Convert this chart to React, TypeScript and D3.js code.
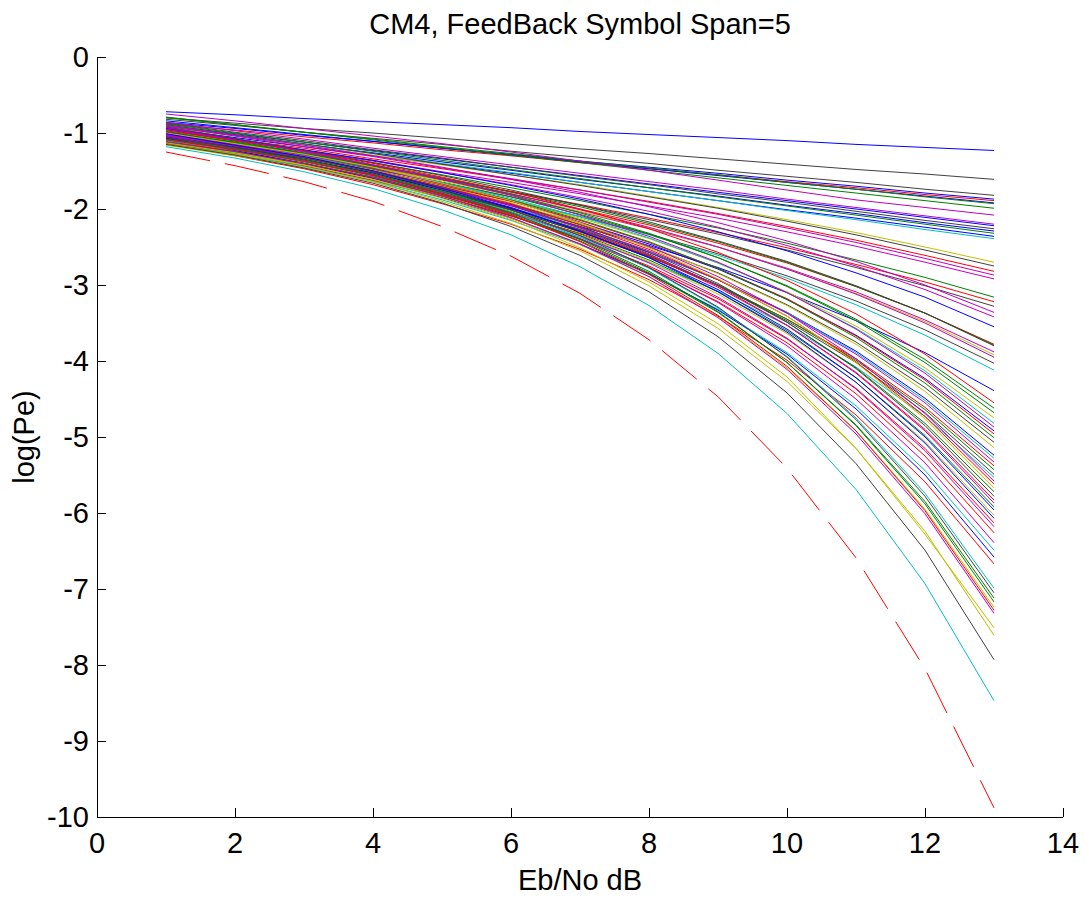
import * as React from "react"
import * as d3 from "d3"

// Eb/No grid (dB) shared by every curve
const ebno = [1, 2, 3, 4, 5, 6, 7, 8, 9, 10, 11, 12, 13]
const xTicks = [0, 2, 4, 6, 8, 10, 12, 14]
const yTicks = [0, -1, -2, -3, -4, -5, -6, -7, -8, -9, -10]

// ideal BPSK reference (red dashed)
const theory = [-1.25, -1.43, -1.64, -1.9, -2.23, -2.62, -3.11, -3.72, -4.47, -5.41, -6.59, -8.05, -9.88]

// MATLAB colour-order letters, one per curve
const curveColors = [
  "b", "k", "k", "b", "r", "b", "g", "g", "m", "m",
  "b", "k", "b", "g", "b", "c", "y", "k", "r", "m",
  "m", "g", "r", "k", "m", "m", "b", "r", "g", "k",
  "m", "y", "m", "k", "c", "b", "r", "g", "g", "y",
  "c", "m", "b", "r", "g", "k", "y", "b", "c", "m",
  "r", "g", "k", "c", "m", "r", "y", "g", "k", "r",
  "m", "g", "b", "y", "b", "r", "m", "r", "m", "c",
  "b", "r", "c", "k", "g", "g", "y", "r", "m", "y",
  "y", "k", "c",
]

// log(Pe) per curve at Eb/No = 1..13 dB
const curves = [
  [-0.72, -0.76, -0.81, -0.85, -0.89, -0.93, -0.98, -1.02, -1.06, -1.1, -1.15, -1.19, -1.23],
  [-0.8, -0.87, -0.94, -1.0, -1.07, -1.14, -1.21, -1.27, -1.34, -1.41, -1.48, -1.54, -1.61],
  [-0.82, -0.9, -0.99, -1.07, -1.15, -1.24, -1.32, -1.4, -1.49, -1.57, -1.65, -1.74, -1.82],
  [-0.86, -0.94, -1.03, -1.11, -1.2, -1.28, -1.37, -1.45, -1.53, -1.62, -1.7, -1.79, -1.87],
  [-0.88, -0.96, -1.05, -1.13, -1.22, -1.3, -1.39, -1.47, -1.55, -1.64, -1.72, -1.81, -1.89],
  [-0.84, -0.93, -1.02, -1.11, -1.2, -1.29, -1.38, -1.47, -1.56, -1.65, -1.74, -1.83, -1.92],
  [-0.8, -0.89, -0.99, -1.08, -1.18, -1.27, -1.37, -1.46, -1.55, -1.65, -1.74, -1.84, -1.93],
  [-0.79, -0.89, -0.99, -1.09, -1.19, -1.29, -1.39, -1.49, -1.59, -1.69, -1.79, -1.89, -1.99],
  [-0.75, -0.84, -0.94, -1.04, -1.14, -1.25, -1.37, -1.49, -1.62, -1.75, -1.88, -1.98, -2.08],
  [-0.86, -0.97, -1.08, -1.2, -1.31, -1.42, -1.53, -1.64, -1.75, -1.87, -1.98, -2.09, -2.2],
  [-0.9, -1.01, -1.12, -1.23, -1.34, -1.45, -1.56, -1.67, -1.78, -1.89, -2.0, -2.11, -2.22],
  [-0.87, -0.99, -1.1, -1.22, -1.33, -1.45, -1.57, -1.68, -1.8, -1.91, -2.03, -2.15, -2.26],
  [-0.92, -1.03, -1.15, -1.26, -1.38, -1.49, -1.61, -1.72, -1.83, -1.95, -2.06, -2.18, -2.29],
  [-0.88, -1.0, -1.12, -1.24, -1.36, -1.48, -1.6, -1.72, -1.84, -1.96, -2.08, -2.2, -2.32],
  [-0.94, -1.06, -1.18, -1.3, -1.41, -1.53, -1.65, -1.77, -1.89, -2.01, -2.12, -2.24, -2.36],
  [-0.9, -1.02, -1.15, -1.27, -1.4, -1.52, -1.65, -1.77, -1.89, -2.02, -2.14, -2.27, -2.39],
  [-0.92, -1.04, -1.16, -1.29, -1.42, -1.55, -1.68, -1.83, -1.98, -2.14, -2.31, -2.5, -2.7],
  [-0.89, -1.02, -1.14, -1.27, -1.41, -1.55, -1.69, -1.84, -1.99, -2.16, -2.34, -2.54, -2.75],
  [-0.95, -1.08, -1.2, -1.34, -1.47, -1.61, -1.75, -1.9, -2.06, -2.23, -2.41, -2.61, -2.82],
  [-0.91, -1.04, -1.18, -1.31, -1.46, -1.6, -1.75, -1.91, -2.07, -2.25, -2.44, -2.65, -2.87],
  [-0.96, -1.09, -1.23, -1.36, -1.51, -1.65, -1.8, -1.96, -2.12, -2.3, -2.49, -2.7, -2.92],
  [-0.93, -1.08, -1.23, -1.39, -1.55, -1.72, -1.89, -2.07, -2.25, -2.45, -2.67, -2.9, -3.16],
  [-0.98, -1.13, -1.29, -1.44, -1.6, -1.77, -1.94, -2.12, -2.31, -2.51, -2.73, -2.96, -3.22],
  [-0.95, -1.11, -1.27, -1.43, -1.6, -1.77, -1.95, -2.14, -2.33, -2.54, -2.77, -3.01, -3.28],
  [-0.9, -1.03, -1.16, -1.3, -1.45, -1.61, -1.78, -1.97, -2.18, -2.42, -2.69, -3.0, -3.36],
  [-0.97, -1.1, -1.23, -1.37, -1.52, -1.68, -1.85, -2.03, -2.24, -2.48, -2.75, -3.06, -3.42],
  [-0.94, -1.08, -1.22, -1.36, -1.52, -1.69, -1.87, -2.07, -2.3, -2.55, -2.84, -3.16, -3.55],
  [-1.0, -1.15, -1.3, -1.45, -1.62, -1.8, -2.0, -2.21, -2.45, -2.71, -3.02, -3.37, -3.78],
  [-0.96, -1.11, -1.26, -1.42, -1.59, -1.78, -1.97, -2.19, -2.43, -2.7, -3.02, -3.37, -3.79],
  [-0.92, -1.07, -1.23, -1.39, -1.56, -1.75, -1.95, -2.17, -2.42, -2.69, -3.01, -3.37, -3.8],
  [-1.01, -1.16, -1.31, -1.48, -1.65, -1.84, -2.04, -2.26, -2.5, -2.78, -3.09, -3.46, -3.88],
  [-0.97, -1.12, -1.28, -1.45, -1.63, -1.82, -2.03, -2.25, -2.5, -2.79, -3.11, -3.48, -3.92],
  [-0.93, -1.09, -1.25, -1.42, -1.6, -1.8, -2.01, -2.24, -2.5, -2.79, -3.12, -3.5, -3.95],
  [-1.03, -1.19, -1.35, -1.52, -1.7, -1.89, -2.1, -2.33, -2.59, -2.88, -3.21, -3.59, -4.03],
  [-0.98, -1.14, -1.31, -1.49, -1.68, -1.88, -2.1, -2.34, -2.61, -2.91, -3.26, -3.66, -4.12],
  [-1.02, -1.2, -1.38, -1.57, -1.77, -1.99, -2.23, -2.48, -2.77, -3.1, -3.47, -3.89, -4.39],
  [-0.97, -1.1, -1.24, -1.4, -1.58, -1.77, -2.0, -2.26, -2.57, -2.94, -3.38, -3.91, -4.55],
  [-1.04, -1.17, -1.31, -1.47, -1.65, -1.84, -2.07, -2.33, -2.64, -3.01, -3.45, -3.98, -4.62],
  [-0.99, -1.12, -1.27, -1.43, -1.61, -1.81, -2.05, -2.32, -2.64, -3.02, -3.47, -4.02, -4.68],
  [-1.06, -1.19, -1.34, -1.5, -1.68, -1.88, -2.12, -2.39, -2.71, -3.09, -3.54, -4.09, -4.75],
  [-1.01, -1.15, -1.3, -1.46, -1.65, -1.86, -2.1, -2.38, -2.71, -3.1, -3.57, -4.13, -4.82],
  [-0.95, -1.09, -1.24, -1.42, -1.61, -1.82, -2.08, -2.36, -2.7, -3.1, -3.58, -4.16, -4.87],
  [-1.08, -1.22, -1.37, -1.54, -1.73, -1.94, -2.18, -2.46, -2.79, -3.19, -3.66, -4.23, -4.92],
  [-1.02, -1.16, -1.32, -1.49, -1.69, -1.9, -2.15, -2.44, -2.78, -3.18, -3.67, -4.25, -4.96],
  [-0.98, -1.13, -1.28, -1.46, -1.66, -1.88, -2.14, -2.43, -2.78, -3.19, -3.69, -4.29, -5.01],
  [-1.05, -1.19, -1.35, -1.53, -1.73, -1.95, -2.2, -2.5, -2.84, -3.26, -3.75, -4.35, -5.07],
  [-1.0, -1.15, -1.31, -1.49, -1.7, -1.92, -2.19, -2.49, -2.85, -3.27, -3.78, -4.4, -5.14],
  [-1.07, -1.22, -1.38, -1.57, -1.78, -2.0, -2.27, -2.57, -2.93, -3.36, -3.87, -4.49, -5.24],
  [-1.03, -1.18, -1.35, -1.54, -1.75, -1.98, -2.25, -2.56, -2.93, -3.36, -3.89, -4.52, -5.28],
  [-0.99, -1.15, -1.32, -1.51, -1.72, -1.96, -2.24, -2.55, -2.93, -3.37, -3.91, -4.55, -5.33],
  [-1.09, -1.24, -1.41, -1.6, -1.82, -2.05, -2.32, -2.63, -3.0, -3.45, -3.97, -4.61, -5.38],
  [-1.04, -1.2, -1.37, -1.56, -1.78, -2.02, -2.3, -2.62, -3.0, -3.45, -3.99, -4.64, -5.43],
  [-1.01, -1.17, -1.35, -1.54, -1.77, -2.01, -2.3, -2.62, -3.01, -3.47, -4.02, -4.68, -5.49],
  [-1.1, -1.26, -1.43, -1.63, -1.85, -2.09, -2.37, -2.7, -3.08, -3.53, -4.08, -4.73, -5.53],
  [-1.02, -1.15, -1.29, -1.46, -1.67, -1.89, -2.17, -2.49, -2.89, -3.37, -3.97, -4.69, -5.58],
  [-1.06, -1.19, -1.33, -1.5, -1.71, -1.93, -2.21, -2.53, -2.93, -3.41, -4.01, -4.73, -5.62],
  [-1.0, -1.14, -1.28, -1.45, -1.66, -1.89, -2.18, -2.51, -2.92, -3.41, -4.02, -4.76, -5.67],
  [-1.11, -1.24, -1.39, -1.56, -1.77, -1.99, -2.27, -2.6, -3.0, -3.49, -4.09, -4.82, -5.72],
  [-1.04, -1.18, -1.32, -1.5, -1.71, -1.95, -2.23, -2.57, -2.98, -3.49, -4.1, -4.85, -5.78],
  [-1.08, -1.22, -1.36, -1.54, -1.75, -1.99, -2.28, -2.61, -3.03, -3.53, -4.15, -4.9, -5.83],
  [-1.03, -1.17, -1.32, -1.5, -1.72, -1.95, -2.25, -2.59, -3.01, -3.53, -4.16, -4.92, -5.87],
  [-1.12, -1.26, -1.41, -1.59, -1.8, -2.04, -2.33, -2.67, -3.09, -3.6, -4.22, -4.98, -5.92],
  [-1.05, -1.19, -1.35, -1.53, -1.75, -1.99, -2.29, -2.64, -3.06, -3.58, -4.22, -5.0, -5.96],
  [-1.09, -1.23, -1.39, -1.57, -1.79, -2.03, -2.34, -2.69, -3.12, -3.64, -4.28, -5.06, -6.03],
  [-1.01, -1.16, -1.31, -1.5, -1.73, -1.98, -2.29, -2.64, -3.09, -3.62, -4.28, -5.08, -6.07],
  [-1.13, -1.28, -1.43, -1.62, -1.84, -2.09, -2.39, -2.75, -3.18, -3.71, -4.36, -5.15, -6.13],
  [-1.06, -1.21, -1.37, -1.56, -1.79, -2.04, -2.35, -2.71, -3.16, -3.7, -4.37, -5.18, -6.18],
  [-1.1, -1.25, -1.41, -1.6, -1.83, -2.09, -2.4, -2.77, -3.22, -3.76, -4.43, -5.25, -6.26],
  [-1.04, -1.2, -1.36, -1.56, -1.8, -2.06, -2.39, -2.77, -3.23, -3.8, -4.5, -5.34, -6.39],
  [-1.12, -1.28, -1.44, -1.64, -1.88, -2.15, -2.47, -2.86, -3.32, -3.89, -4.59, -5.44, -6.49],
  [-1.07, -1.23, -1.4, -1.6, -1.85, -2.12, -2.46, -2.85, -3.33, -3.91, -4.63, -5.5, -6.58],
  [-1.14, -1.3, -1.47, -1.68, -1.93, -2.2, -2.53, -2.93, -3.41, -3.99, -4.71, -5.59, -6.67],
  [-1.1, -1.22, -1.37, -1.54, -1.77, -2.04, -2.37, -2.78, -3.3, -3.94, -4.75, -5.74, -6.99],
  [-1.06, -1.19, -1.33, -1.51, -1.74, -2.01, -2.35, -2.77, -3.29, -3.95, -4.77, -5.78, -7.05],
  [-1.13, -1.26, -1.4, -1.58, -1.81, -2.08, -2.42, -2.84, -3.36, -4.02, -4.84, -5.85, -7.12],
  [-1.08, -1.21, -1.35, -1.54, -1.77, -2.05, -2.4, -2.82, -3.35, -4.02, -4.85, -5.88, -7.17],
  [-1.15, -1.28, -1.42, -1.61, -1.84, -2.12, -2.47, -2.89, -3.42, -4.09, -4.92, -5.95, -7.24],
  [-1.09, -1.22, -1.37, -1.55, -1.8, -2.07, -2.43, -2.86, -3.4, -4.07, -4.92, -5.97, -7.28],
  [-1.12, -1.25, -1.4, -1.59, -1.83, -2.11, -2.46, -2.89, -3.43, -4.11, -4.96, -6.01, -7.32],
  [-1.13, -1.26, -1.42, -1.61, -1.86, -2.14, -2.51, -2.96, -3.51, -4.21, -5.15, -6.28, -7.51],
  [-1.16, -1.3, -1.45, -1.64, -1.9, -2.19, -2.55, -3.01, -3.57, -4.27, -5.15, -6.24, -7.61],
  [-1.15, -1.29, -1.46, -1.66, -1.92, -2.23, -2.61, -3.09, -3.68, -4.42, -5.35, -6.49, -7.93],
  [-1.18, -1.33, -1.51, -1.73, -2.01, -2.34, -2.76, -3.27, -3.9, -4.69, -5.69, -6.93, -8.47],
]

const palette: Record<string, string> = {
  b: "#0000ff",
  g: "#008000",
  r: "#ff0000",
  c: "#00bfbf",
  m: "#bf00bf",
  y: "#bfbf00",
  k: "#404040",
}

const width = 1089
const height = 899
const margin = { top: 57, right: 26, bottom: 82, left: 97 }
const font = "'Liberation Sans', Arial, Helvetica, sans-serif"

export default function App() {
  const x = d3
    .scaleLinear()
    .domain([0, 14])
    .range([margin.left, width - margin.right])
  const y = d3
    .scaleLinear()
    .domain([-10, 0])
    .range([height - margin.bottom, margin.top])

  const line = d3
    .line<number>()
    .x((_, i) => x(ebno[i]))
    .y((d) => y(d))

  const x0 = margin.left
  const yb = height - margin.bottom
  const cx = (x0 + width - margin.right) / 2
  const tickLen = 9

  return (
    <svg
      width={width}
      height={height}
      style={{ position: "absolute", left: 0, top: 0, background: "#fff" }}
      fontFamily={font}
    >
      <rect width={width} height={height} fill="#fff" />

      {curves.map((vals, i) => (
        <path
          key={i}
          d={line(vals) || ""}
          fill="none"
          stroke={palette[curveColors[i]]}
          strokeWidth={1}
        />
      ))}

      <path
        d={line(theory) || ""}
        fill="none"
        stroke="#ff0000"
        strokeWidth={1}
        strokeDasharray="45,15"
      />

      {/* axes, box off */}
      <g stroke="#000" strokeWidth={1} shapeRendering="crispEdges">
        <line x1={x0} x2={x0} y1={margin.top} y2={yb} />
        <line x1={x0} x2={width - margin.right} y1={yb} y2={yb} />
        {yTicks.map((t) => (
          <line key={"yt" + t} x1={x0} x2={x0 + tickLen} y1={y(t)} y2={y(t)} />
        ))}
        {xTicks.map((t) => (
          <line key={"xt" + t} x1={x(t)} x2={x(t)} y1={yb} y2={yb - tickLen} />
        ))}
      </g>

      <g fontSize={29} fill="#000">
        {yTicks.map((t) => (
          <text key={"yl" + t} x={x0 - 8} y={y(t)} dy="0.36em" textAnchor="end">
            {t}
          </text>
        ))}
        {xTicks.map((t) => (
          <text key={"xl" + t} x={x(t)} y={yb + 36} textAnchor="middle">
            {t}
          </text>
        ))}
        <text x={cx} y={34} textAnchor="middle">
          CM4, FeedBack Symbol Span=5
        </text>
        <text x={cx} y={890} textAnchor="middle">
          Eb/No dB
        </text>
        <text
          transform={`translate(34,${(margin.top + yb) / 2}) rotate(-90)`}
          textAnchor="middle"
        >
          log(Pe)
        </text>
      </g>
    </svg>
  )
}
